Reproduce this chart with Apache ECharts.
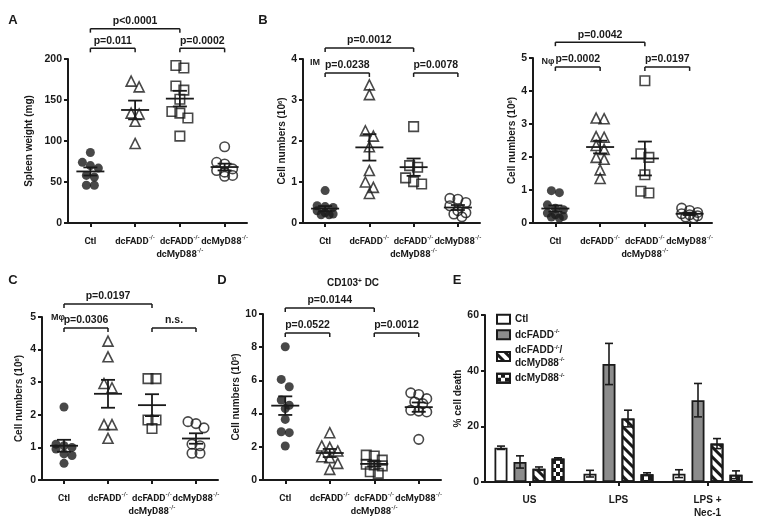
<!DOCTYPE html>
<html>
<head>
<meta charset="utf-8">
<script src="https://cdn.jsdelivr.net/npm/echarts@6/dist/echarts.min.js"></script>
<style>html,body{margin:0;padding:0;background:#fff}#c{width:757px;height:529px}</style>
</head>
<body>
<div id="c"></div>
<script>
// ---------- DATA ----------
const groups = ['Ctl', 'dcFADD-/-', 'dcFADD-/-\ndcMyD88-/-', 'dcMyD88-/-'];

// A: spleen weight (mg)
const spleenCtl   = [86, 74, 70, 67, 58, 56, 46, 46];
const spleenFADD  = [173, 166, 134, 133, 124, 97];
const spleenDKO   = [192, 189, 167, 162, 151, 136, 134, 128, 106];
const spleenMyD88 = [93, 74, 72, 66, 64, 62, 58, 57];

// B (left): IM cell numbers
const imCtl   = [0.79, 0.42, 0.4, 0.38, 0.3, 0.25, 0.22, 0.2, 0.2];
const imFADD  = [3.37, 3.13, 2.25, 2.12, 1.86, 1.28, 1.0, 0.87, 0.72];
const imDKO   = [2.35, 1.4, 1.36, 1.1, 1.01, 0.95];
const imMyD88 = [0.6, 0.58, 0.5, 0.42, 0.3, 0.25, 0.22, 0.15];

// B (right): Nphi cell numbers
const nCtl   = [0.98, 0.92, 0.55, 0.45, 0.4, 0.3, 0.25, 0.2, 0.18, 0.15];
const nFADD  = [3.18, 3.16, 2.62, 2.6, 2.35, 2.23, 1.99, 1.93, 1.61, 1.35];
const nDKO   = [4.31, 2.1, 1.99, 1.46, 0.96, 0.91];
const nMyD88 = [0.45, 0.38, 0.32, 0.28, 0.25, 0.22, 0.18, 0.15];

// C: Mphi cell numbers
const mCtl   = [2.24, 1.1, 1.05, 1.0, 0.95, 0.8, 0.75, 0.51];
const mFADD  = [4.26, 3.78, 2.96, 2.83, 1.7, 1.7, 1.28];
const mDKO   = [3.11, 3.11, 1.84, 1.84, 1.58];
const mMyD88 = [1.79, 1.73, 1.6, 1.1, 1.05, 0.82, 0.82];

// D: CD103+ DC cell numbers
const dcCtl   = [8.03, 6.06, 5.62, 4.82, 4.5, 4.3, 3.65, 2.91, 2.85, 2.05];
const dcFADD  = [2.85, 2.05, 1.97, 1.75, 1.4, 1.35, 1.0, 0.64];
const dcDKO   = [1.5, 1.45, 1.2, 0.95, 0.9, 0.85, 0.5, 0.4];
const dcMyD88 = [5.25, 5.15, 4.9, 4.7, 4.6, 4.2, 4.15, 4.1, 2.45];

// significance labels (pairs: Ctl-dcFADD, DKO-dcMyD88, Ctl-DKO)
const sigPairs = [[0, 1], [2, 3], [0, 2]];
const labelsA  = ['p=0.011', 'p=0.0002', 'p<0.0001'];
const labelsB1 = ['p=0.0238', 'p=0.0078', 'p=0.0012'];
const labelsB2 = ['p=0.0002', 'p=0.0197', 'p=0.0042'];
const labelsC  = ['p=0.0306', 'n.s.', 'p=0.0197'];
const labelsD  = ['p=0.0522', 'p=0.0012', 'p=0.0144'];

// E: % cell death
const conditions = ['US', 'LPS', 'LPS +\nNec-1'];
const barNames = ['Ctl', 'dcFADD-/-', 'dcFADD-/-/\ndcMyD88-/-', 'dcMyD88-/-'];
const deathCtl   = [12.3, 3.0, 3.0];
const deathFADD  = [7.2, 42.4, 29.4];
const deathDKO   = [4.8, 22.8, 13.8];
const deathMyD88 = [8.4, 2.8, 2.6];
const errCtl   = [0.6, 1.2, 1.4];
const errFADD  = [2.2, 7.4, 6.0];
const errDKO   = [0.6, 3.0, 1.8];
const errMyD88 = [0.3, 0.5, 1.4];

// ---------- LAYOUT / STYLE ----------
const FONT = '"Liberation Sans", Arial, Helvetica, sans-serif';
const NARROW = 'Roboto, "Liberation Sans", Arial, sans-serif';
const INK = '#1a1a1a';
const layout = {
  A:  {left: 68,  top: 59,  width: 179, height: 164},
  B1: {left: 303, top: 59,  width: 177, height: 164},
  B2: {left: 533, top: 58,  width: 179, height: 165},
  C:  {left: 42,  top: 317, width: 176, height: 163},
  D:  {left: 263, top: 314, width: 178, height: 166},
  E:  {left: 485, top: 315, width: 267, height: 167}
};
const bracketLevels = {A: [213, 237], B1: [3.66, 4.27], B2: [4.73, 5.48], C: [4.66, 5.4], D: [8.86, 10.36]};

const supRich = {s: {fontSize: 6, fontWeight: 'bold', fontFamily: FONT, color: INK, verticalAlign: 'top'}};
const supRichN = {s: {fontSize: 5.5, fontWeight: 'bold', fontFamily: NARROW, color: INK, verticalAlign: 'top'}};
const supFmt = v => String(v).replace(/-\/-/g, '{s|-/-}');

const marks = [
  {symbol: 'circle',   size: 9,   style: {color: INK, borderWidth: 0}},
  {symbol: 'triangle', size: 10,  style: {color: 'rgba(0,0,0,0)', borderColor: INK, borderWidth: 1.6}},
  {symbol: 'rect',     size: 9.5, style: {color: 'rgba(0,0,0,0)', borderColor: INK, borderWidth: 1.6}},
  {symbol: 'circle',   size: 9.5, style: {color: 'rgba(0,0,0,0)', borderColor: INK, borderWidth: 1.6}}
];

const panels = [
  {key: 'A',  max: 200, interval: 50, name: 'Spleen weight (mg)', nameGap: 34, data: [spleenCtl, spleenFADD, spleenDKO, spleenMyD88], labels: labelsA},
  {key: 'B1', max: 4, interval: 1, name: 'Cell numbers (10{s|6})', nameGap: 14, data: [imCtl, imFADD, imDKO, imMyD88], labels: labelsB1},
  {key: 'B2', max: 5, interval: 1, name: 'Cell numbers (10{s|6})', nameGap: 12, data: [nCtl, nFADD, nDKO, nMyD88], labels: labelsB2},
  {key: 'C',  max: 5, interval: 1, name: 'Cell numbers (10{s|6})', nameGap: 18, data: [mCtl, mFADD, mDKO, mMyD88], labels: labelsC},
  {key: 'D',  max: 10, interval: 2, name: 'Cell numbers (10{s|5})', nameGap: 16, data: [dcCtl, dcFADD, dcDKO, dcMyD88], labels: labelsD}
];

// ---------- HELPERS ----------
const mean = a => a.reduce((s, v) => s + v, 0) / a.length;
const sem = a => { const m = mean(a); const v = a.reduce((s, x) => s + (x - m) * (x - m), 0) / (a.length - 1); return Math.sqrt(v / a.length); };

// scatter-dot-plot layout: close points share a row (max 3) spread symmetrically
function swarm(values, ppu) {
  const rowPx = 8, maxRow = 3, step = 8;
  const order = values.map((v, i) => i).sort((a, b) => values[b] - values[a]);
  const offs = new Array(values.length).fill(0);
  let row = [];
  const flush = () => {
    const n = row.length;
    row.forEach((idx, j) => { offs[idx] = (j - (n - 1) / 2) * step; });
    row = [];
  };
  order.forEach(idx => {
    if (row.length && ((values[row[0]] - values[idx]) * ppu > rowPx || row.length >= maxRow)) flush();
    row.push(idx);
  });
  flush();
  return offs;
}

const lineStyle = {stroke: INK, lineWidth: 1.8};
function meanSemRender(params, api) {
  const c = api.value(0), m = api.value(1), s = api.value(2);
  const pm = api.coord([c, m]), pt = api.coord([c, m + s]), pb = api.coord([c, m - s]);
  const x = pm[0];
  return {type: 'group', children: [
    {type: 'line', shape: {x1: x - 14, y1: pm[1], x2: x + 14, y2: pm[1]}, style: lineStyle},
    {type: 'line', shape: {x1: x, y1: pt[1], x2: x, y2: pb[1]}, style: lineStyle},
    {type: 'line', shape: {x1: x - 7, y1: pt[1], x2: x + 7, y2: pt[1]}, style: lineStyle},
    {type: 'line', shape: {x1: x - 7, y1: pb[1], x2: x + 7, y2: pb[1]}, style: lineStyle}
  ]};
}
function bracketRender(labels) {
  return function (params, api) {
    const c1 = api.value(0), c2 = api.value(1), lv = api.value(2);
    const p1 = api.coord([c1, lv]), p2 = api.coord([c2, lv]);
    const y = p1[1];
    const st = {stroke: INK, lineWidth: 1.5};
    return {type: 'group', children: [
      {type: 'line', shape: {x1: p1[0], y1: y, x2: p2[0], y2: y}, style: st},
      {type: 'line', shape: {x1: p1[0], y1: y, x2: p1[0], y2: y + 4}, style: st},
      {type: 'line', shape: {x1: p2[0], y1: y, x2: p2[0], y2: y + 4}, style: st},
      {type: 'text', x: (p1[0] + p2[0]) / 2, y: y - 2, style: {text: labels[params.dataIndex], fill: INK, font: 'bold 10.5px ' + FONT, align: 'center', verticalAlign: 'bottom'}}
    ]};
  };
}

function catAxis(gi, cats, fmt, family, size, rich) {
  return {
    type: 'category', gridIndex: gi, data: cats, boundaryGap: true,
    axisLine: {show: true, lineStyle: {color: INK, width: 2}},
    axisTick: {show: true, alignWithLabel: true, length: 4, lineStyle: {color: INK, width: 2}},
    axisLabel: {interval: 0, margin: 12, color: INK, fontFamily: family, fontSize: size, fontWeight: 'bold', lineHeight: 13, formatter: fmt, rich: rich},
    splitLine: {show: false}
  };
}
function valAxis(gi, max, interval, name, nameGap) {
  return {
    type: 'value', gridIndex: gi, min: 0, max: max, interval: interval,
    axisLine: {show: true, lineStyle: {color: INK, width: 2}},
    axisTick: {show: true, length: 4, lineStyle: {color: INK, width: 2}},
    axisLabel: {margin: 6, color: INK, fontFamily: FONT, fontSize: 10.5, fontWeight: 'bold'},
    splitLine: {show: false},
    name: name, nameLocation: 'middle', nameGap: nameGap, nameRotate: 90,
    nameTextStyle: {color: INK, fontFamily: FONT, fontSize: 10, fontWeight: 'bold', rich: supRich}
  };
}

// ---------- BUILD OPTION ----------
const grids = [], xAxes = [], yAxes = [], series = [];
panels.forEach((p, gi) => {
  const g = layout[p.key];
  grids.push({left: g.left, top: g.top, width: g.width, height: g.height, containLabel: false});
  xAxes.push(catAxis(gi, groups, supFmt, NARROW, 9.5, supRichN));
  yAxes.push(valAxis(gi, p.max, p.interval, p.name, p.nameGap));
  const ppu = g.height / p.max;
  p.data.forEach((vals, k) => {
    const offs = swarm(vals, ppu);
    series.push({
      type: 'scatter', xAxisIndex: gi, yAxisIndex: gi, silent: true,
      symbol: marks[k].symbol, symbolSize: marks[k].size, itemStyle: marks[k].style, z: 3,
      data: vals.map((v, i) => ({value: [k, v], symbolOffset: [offs[i], 0]}))
    });
  });
  series.push({
    type: 'custom', xAxisIndex: gi, yAxisIndex: gi, silent: true, z: 5,
    renderItem: meanSemRender, encode: {x: 0, y: 1},
    data: p.data.map((vals, k) => [k, mean(vals), sem(vals)])
  });
  const lv = bracketLevels[p.key];
  series.push({
    type: 'custom', xAxisIndex: gi, yAxisIndex: gi, silent: true, z: 5, clip: false,
    renderItem: bracketRender(p.labels), encode: {x: [0, 1], y: 2},
    data: sigPairs.map((pr, j) => [pr[0], pr[1], j < 2 ? lv[0] : lv[1]])
  });
});

// Panel E
const gE = panels.length;
const gl = layout.E;
grids.push({left: gl.left, top: gl.top, width: gl.width, height: gl.height, containLabel: false});
xAxes.push(catAxis(gE, conditions, v => v, FONT, 10, supRich));
yAxes.push(valAxis(gE, 60, 20, '% cell death', 18));

const barVals = [deathCtl, deathFADD, deathDKO, deathMyD88];
const barErrs = [errCtl, errFADD, errDKO, errMyD88];
const barStyles = [
  {color: '#ffffff'},
  {color: '#8c8c8c'},
  {color: '#ffffff', decal: {symbol: 'rect', symbolSize: 1, dashArrayX: [1, 0], dashArrayY: [2.2, 3.2], rotation: Math.PI / 4, color: INK}},
  {color: '#ffffff', decal: {symbol: 'rect', symbolSize: 1, dashArrayX: [[3.5, 3.5], [0, 3.5, 3.5, 0]], dashArrayY: [3.5, 0], rotation: 0, color: INK}}
];
const BAR_W = 13, BAR_GAP = 6;
barVals.forEach((vals, i) => {
  series.push({
    type: 'bar', name: barNames[i], xAxisIndex: gE, yAxisIndex: gE, data: vals,
    barWidth: BAR_W, barGap: (BAR_GAP / BAR_W * 100).toFixed(1) + '%', z: 2,
    itemStyle: Object.assign({borderColor: INK, borderWidth: 1.8}, barStyles[i])
  });
});
barVals.forEach((vals, i) => {
  series.push({
    type: 'custom', xAxisIndex: gE, yAxisIndex: gE, silent: true, z: 4, encode: {x: 0, y: 1},
    data: vals.map((v, j) => [j, v, barErrs[i][j]]),
    renderItem: function (params, api) {
      const c = api.value(0), v = api.value(1), e = api.value(2);
      const base = api.coord([c, v]);
      const x = base[0] + (i - 1.5) * (BAR_W + BAR_GAP);
      const top = api.coord([c, v + e])[1], bot = api.coord([c, v - e])[1];
      const st = {stroke: INK, lineWidth: 1.6};
      return {type: 'group', children: [
        {type: 'line', shape: {x1: x, y1: top, x2: x, y2: bot}, style: st},
        {type: 'line', shape: {x1: x - 4, y1: top, x2: x + 4, y2: top}, style: st},
        {type: 'line', shape: {x1: x - 4, y1: bot, x2: x + 4, y2: bot}, style: st}
      ]};
    }
  });
});

const txt = (t, x, y, size, extra) => ({type: 'text', x: x, y: y, silent: true,
  style: Object.assign({text: t, fill: INK, font: 'bold ' + size + 'px ' + FONT, align: 'center', verticalAlign: 'middle'}, extra || {})});

const option = {
  animation: false,
  backgroundColor: '#ffffff',
  grid: grids, xAxis: xAxes, yAxis: yAxes, series: series,
  legend: {
    orient: 'vertical', left: 496, top: 313, padding: 0, itemWidth: 13, itemHeight: 9, itemGap: 3, icon: 'rect',
    data: barNames, formatter: supFmt, selectedMode: false,
    textStyle: {color: INK, fontFamily: FONT, fontSize: 10, fontWeight: 'bold', lineHeight: 12.5, rich: supRich}
  },
  graphic: [
    txt('A', 13, 20, 13), txt('B', 263, 20, 13), txt('C', 13, 280, 13), txt('D', 222, 280, 13), txt('E', 457, 280, 13),
    txt('IM', 315, 63, 9), txt('N\u03c6', 548, 62, 9), txt('M\u03c6', 58, 318, 9),
    {type: 'text', x: 353, y: 283, silent: true, style: {text: '{b|CD103}{s|+}{b| DC}', align: 'center', verticalAlign: 'middle',
      rich: {b: {fontSize: 10, fontWeight: 'bold', fontFamily: FONT, fill: INK, color: INK}, s: {fontSize: 6.5, fontWeight: 'bold', fontFamily: FONT, fill: INK, color: INK, verticalAlign: 'top'}}}}
  ]
};

const chart = echarts.init(document.getElementById('c'), null, {renderer: 'canvas'});
chart.setOption(option);
</script>
</body>
</html>
